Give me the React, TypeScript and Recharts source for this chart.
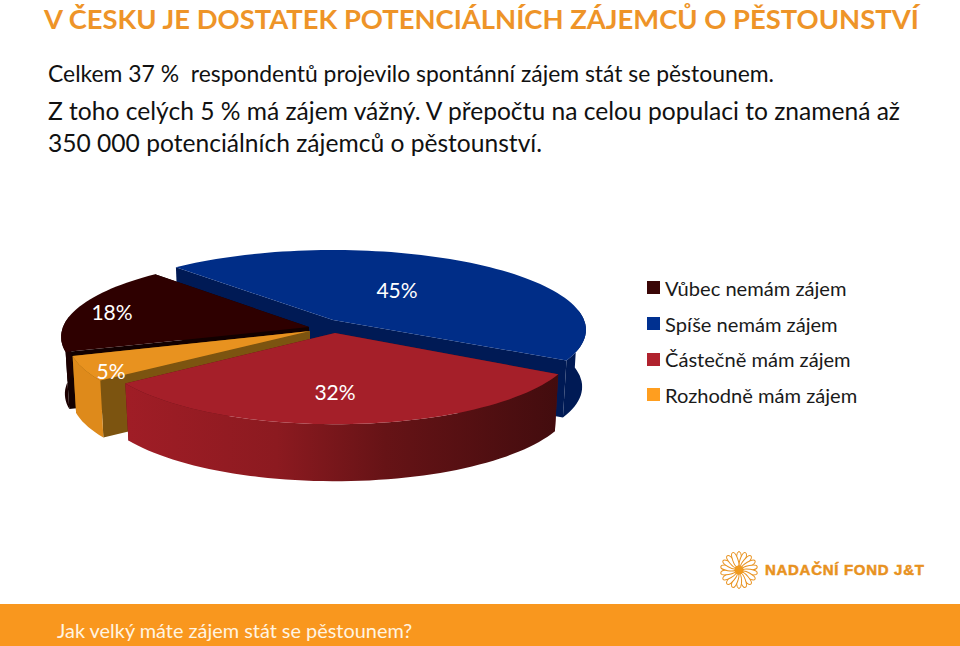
import { Legend, Pie, PieChart } from "recharts";

const categories = ["Vůbec nemám zájem", "Spíše nemám zájem", "Částečně mám zájem", "Rozhodně mám zájem"];
const values = [18, 45, 32, 5];
const topColors = ["#2E0000", "#002D87", "#A51F29", "#E8921F"];
const legendColors = ["#3A0606", "#003090", "#B0222E", "#FF9E1F"];
const wallColors = ["#1C0000", "#001A55", "url(#redWall)", "#DE8A1B"];
const innerWallColors = ["#120000", "#001A55", "#5A1014", "#7C5410"];
const headingLines = [
  "Celkem 37 %  respondentů projevilo spontánní zájem stát se pěstounem.",
  "Z toho celých 5 % má zájem vážný. V přepočtu na celou populaci to znamená až",
  "350 000 potenciálních zájemců o pěstounství.",
];

const chartData = categories.map((name, i) => ({ name, value: values[i], fill: topColors[i] }));

// the pie is exploded, so every slice sits on its own offset and size
const sliceOffsets = [
  { dx: -11, dy: 7, r: 246, ry: 78.6 },
  { dx: 13, dy: 0, r: 251, ry: 78.6 },
  { dx: 15, dy: 13, r: 240, ry: 80 },
  { dx: -10, dy: 11, r: 240, ry: 78.6 },
];
const labelOffsets = [
  { x: -197, y: -16 },
  { x: 64, y: -31 },
  { x: 0, y: 58 },
  { x: -199, y: 39 },
];

const DEPTH = 57;
const PERSPECTIVE = 0.123;
const RAD = Math.PI / 180;

function project(deg: number, o: { cx: number; cy: number; r: number; ry: number }, bottom = false) {
  const sin = Math.sin(deg * RAD);
  const cos = Math.cos(deg * RAD);
  const s = 1 / (1 + PERSPECTIVE * sin);
  return {
    x: o.cx + o.r * cos * s * (bottom ? 0.985 : 1),
    y: o.cy - o.ry * sin * s + (bottom ? DEPTH : 0),
  };
}

function toPath(points: { x: number; y: number }[]) {
  return points.map((p, i) => `${i ? "L" : "M"}${p.x.toFixed(1)} ${p.y.toFixed(1)}`).join(" ") + " Z";
}

function sliceIndex(props: any) {
  return categories.indexOf(props.name ?? props.payload?.name);
}

function Slice3D(props: any) {
  const i = sliceIndex(props);
  const off = sliceOffsets[i];
  const o = { cx: props.cx + off.dx, cy: props.cy + off.dy, r: off.r, ry: off.ry };
  const angles: number[] = [];
  const n = Math.ceil(Math.abs(props.endAngle - props.startAngle) / 2);
  for (let k = 0; k <= n; k++) angles.push(props.startAngle + ((props.endAngle - props.startAngle) * k) / n);

  const apexTop = { x: o.cx, y: o.cy };
  const apexBottom = { x: o.cx, y: o.cy + DEPTH };
  const radialWall = (deg: number) => [apexTop, project(deg, o), project(deg, o, true), apexBottom];
  const front = angles.filter((a) => Math.sin(a * RAD) <= 0.15);
  const outer = [...front.map((a) => project(a, o)), ...[...front].reverse().map((a) => project(a, o, true))];
  const top = [apexTop, ...angles.map((a) => project(a, o))];

  return (
    <g>
      <path d={toPath(radialWall(props.endAngle))} fill={innerWallColors[i]} />
      <path d={toPath(radialWall(props.startAngle))} fill={innerWallColors[i]} />
      <path d={toPath(outer)} fill={wallColors[i]} />
      <path d={toPath(top)} fill={topColors[i]} />
    </g>
  );
}

// painting order differs from the data order: blue at the back, red in front
function layer(shown: number[]) {
  return (props: any) => (shown.includes(sliceIndex(props)) ? <Slice3D {...props} /> : <g />);
}
const backLayer = layer([1]);
const middleLayer = layer([0, 3]);
const frontLayer = layer([2]);

function sliceLabel(props: any) {
  const i = sliceIndex(props);
  const off = sliceOffsets[i];
  return (
    <text
      x={props.cx + off.dx + labelOffsets[i].x}
      y={props.cy + off.dy + labelOffsets[i].y}
      fill="#FFFFFF"
      fontSize={21}
      textAnchor="middle"
      dominantBaseline="central"
      fontFamily="Lato, sans-serif"
    >
      {props.value}%
    </text>
  );
}

function LegendList() {
  return (
    <div>
      {categories.map((name, i) => (
        <div key={name} style={{ display: "flex", alignItems: "center", height: 35.7, fontSize: 20.1, color: "#1A1A1A" }}>
          <span style={{ width: 13, height: 13, marginRight: 5, background: legendColors[i] }} />
          {name}
        </div>
      ))}
    </div>
  );
}

function Flower() {
  const petals = Array.from({ length: 18 }, (_, i) => i * 20);
  return (
    <svg width={40} height={40} style={{ position: "absolute", left: 719, top: 550 }}>
      {petals.map((a) => (
        <ellipse key={a} cx={20} cy={9} rx={2.6} ry={7.5} fill="#FFFFFF" stroke="#E8921F" strokeWidth={1} transform={`rotate(${a} 20 20)`} />
      ))}
      <circle cx={20} cy={20} r={4.5} fill="#F09A1E" />
    </svg>
  );
}

const pieProps = {
  data: chartData,
  dataKey: "value",
  nameKey: "name",
  cx: 320,
  cy: 320,
  outerRadius: 250,
  startAngle: 197.8,
  endAngle: -162.2,
  stroke: "none",
  isAnimationActive: false,
};

export default function App() {
  return (
    <div style={{ position: "absolute", left: 0, top: 0, width: 960, height: 646, background: "#FFFFFF", overflow: "hidden", fontFamily: "Lato, sans-serif" }}>
      <div style={{ position: "absolute", left: 44, top: 2, fontSize: 27.4, fontWeight: 700, color: "#EE9428", whiteSpace: "nowrap" }}>
        V ČESKU JE DOSTATEK POTENCIÁLNÍCH ZÁJEMCŮ O PĚSTOUNSTVÍ
      </div>
      <div style={{ position: "absolute", left: 48, top: 59, fontSize: 22.9, color: "#111111", whiteSpace: "pre" }}>{headingLines[0]}</div>
      <div style={{ position: "absolute", left: 48, top: 96, fontSize: 24.6, color: "#111111", whiteSpace: "pre" }}>{headingLines[1]}</div>
      <div style={{ position: "absolute", left: 48, top: 128, fontSize: 24.6, color: "#111111", whiteSpace: "pre" }}>{headingLines[2]}</div>

      <PieChart width={960} height={646} margin={{ top: 0, right: 0, bottom: 0, left: 0 }} style={{ position: "absolute", left: 0, top: 0 }}>
        <defs>
          <linearGradient id="redWall" gradientUnits="userSpaceOnUse" x1="124" y1="0" x2="560" y2="0">
            <stop offset="0%" stopColor="#A01D26" />
            <stop offset="35%" stopColor="#8C1A20" />
            <stop offset="60%" stopColor="#661316" />
            <stop offset="100%" stopColor="#420C0E" />
          </linearGradient>
        </defs>
        <Pie {...pieProps} legendType="none" shape={backLayer} />
        <Pie {...pieProps} shape={middleLayer} />
        <Pie {...pieProps} legendType="none" shape={frontLayer} label={sliceLabel} labelLine={false} />
        <Legend content={<LegendList />} layout="vertical" wrapperStyle={{ position: "absolute", left: 647, top: 270, width: 260 }} />
      </PieChart>

      <Flower />
      <div style={{ position: "absolute", left: 765, top: 561, fontSize: 15, fontWeight: 700, letterSpacing: 0.7, color: "#E8921F", WebkitTextStroke: "0.5px #E8921F", fontFamily: "'Liberation Sans', sans-serif", whiteSpace: "nowrap" }}>
        NADAČNÍ FOND J&amp;T
      </div>

      <div style={{ position: "absolute", left: 0, top: 604, width: 960, height: 42, background: "#F9971E" }} />
      <div style={{ position: "absolute", left: 57, top: 618, fontSize: 19.9, color: "#FFF4E2", whiteSpace: "nowrap" }}>
        Jak velký máte zájem stát se pěstounem?
      </div>
    </div>
  );
}
